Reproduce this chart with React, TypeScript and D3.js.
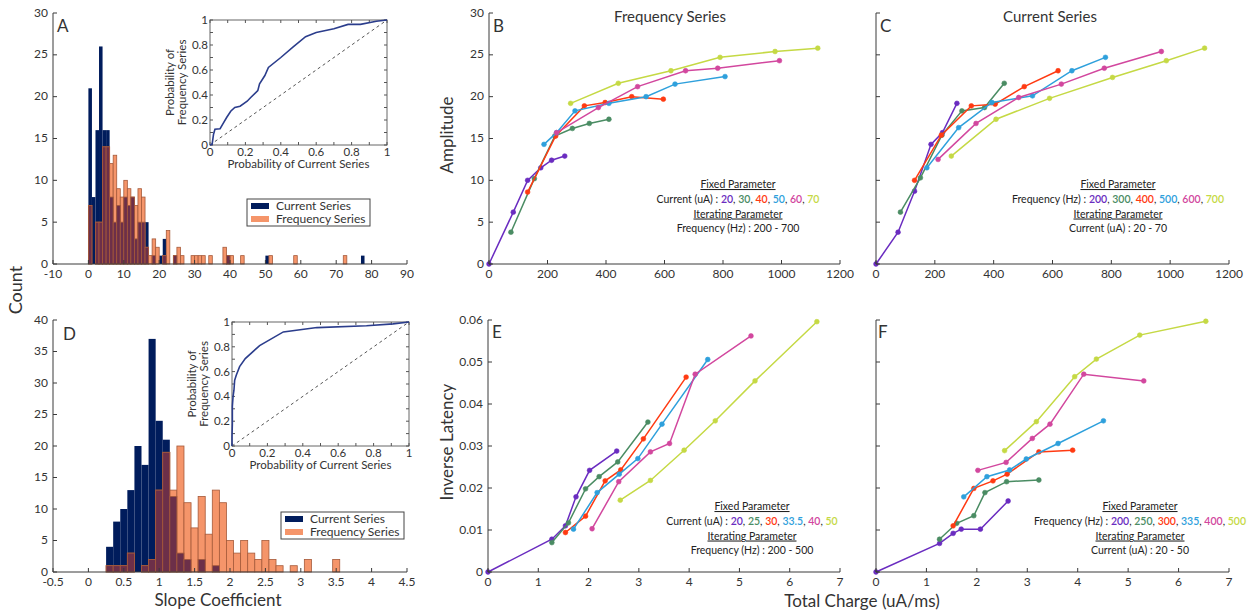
import React from 'react';
import * as d3 from 'd3';

const FONT = "Lato, 'Open Sans', sans-serif";
const TXT = '#333';
const AX = '#3a3a3a';

// ---------- Histogram A (bins of width 1) ----------
const histA_bins = [0,1,2,3,4,5,6,7,8,9,10,11,12,13,14,15,16,17,18,19,20,21,22,23,24,25,26,27,28,29,30,31,32,33,34,38,39,40,43,50,51,58,72,77];
const histA_current = [21,8,16,26,16,16,8,5,7,5,8,7,8,3,5,5,5,0,1,0,1,3,0,0,1,0,0,0,0,0,0,0,0,0,0,0,1,0,0,1,0,0,0,1];
const histA_frequency = [7,0,5,5,14,14,12,13,9,8,10,9,8,7,9,8,2,1,3,2,0,1,4,0,1,2,1,0,0,1,1,1,1,0,1,2,1,1,1,0,1,1,1,0];

// ---------- Histogram D (slope coefficient, bins of width 0.1, centers) ----------
const histD_centers = [0.3,0.4,0.5,0.6,0.7,0.8,0.9,1.0,1.1,1.2,1.3,1.4,1.5,1.6,1.7,1.8,1.9,2.0,2.1,2.2,2.3,2.4,2.5,2.6,2.7,2.8,2.9,3.0,3.1,3.2,3.3,3.4,3.5];
const histD_current = [4,8,10,13,20,17,37,24,21,12,3,2,0,2,0,1,0,0,0,0,0,0,0,0,0,0,0,0,0,0,0,0,0];
const histD_frequency = [1,1,1,3,0,1,2,13,19,13,20,11,7,12,6,13,11,5,3,5,3,2,5,2,1,0,1,0,2,0,0,0,2];

// ---------- Inset cumulative curves ----------
const insetA_curve = [[0,0],[0.012,0.005],[0.02,0.086],[0.028,0.126],[0.057,0.13],[0.072,0.167],[0.094,0.22],[0.117,0.27],[0.14,0.3],[0.17,0.31],[0.21,0.35],[0.23,0.38],[0.27,0.435],[0.28,0.49],[0.31,0.556],[0.33,0.62],[0.4,0.7],[0.47,0.785],[0.54,0.866],[0.6,0.9],[0.7,0.93],[0.78,0.965],[0.85,0.965],[0.94,0.99],[1,1]];
const insetD_curve = [[0,0],[0,0.075],[0.002,0.18],[0.002,0.32],[0.006,0.4],[0.011,0.45],[0.015,0.53],[0.024,0.57],[0.043,0.64],[0.075,0.705],[0.156,0.81],[0.29,0.92],[0.48,0.955],[0.76,0.97],[0.91,0.985],[1,1]];
const insetTicks = [0,0.2,0.4,0.6,0.8,1];
const insetMinor = [0,0.1,0.2,0.3,0.4,0.5,0.6,0.7,0.8,0.9,1];

// ---------- Panel B: Frequency series, amplitude vs total charge ----------
const B_20 = [[0,0],[83,6.2],[132,10],[177,11.5],[214,12.4],[259,12.9]];
const B_30 = [[75,3.8],[155,10.2],[225,15.3],[285,16.2],[343,16.8],[410,17.3]];
const B_40 = [[132,8.6],[228,15.3],[326,18.9],[397,19.3],[488,20],[596,19.7]];
const B_50 = [[188,14.3],[231,15.7],[294,18.3],[410,19.2],[537,20],[636,21.5],[807,22.4]];
const B_60 = [[231,15.7],[374,18.7],[508,21.2],[672,23.1],[782,23.4],[993,24.3]];
const B_70 = [[279,19.2],[442,21.6],[622,23.1],[790,24.7],[978,25.4],[1124,25.8]];

// ---------- Panel C: Current series ----------
const C_200 = [[0,0],[75,3.8],[131,8.7],[187,14.3],[226,15.7],[275,19.2]];
const C_300 = [[83,6.2],[151,10.3],[224,15.4],[292,18.3],[369,18.7],[436,21.6]];
const C_400 = [[131,10],[222,15.4],[324,18.9],[405,19.1],[504,21.2],[619,23.1]];
const C_500 = [[173,11.5],[281,16.3],[394,19.3],[532,20.1],[666,23.1],[780,24.7]];
const C_600 = [[211,12.5],[340,16.8],[485,19.9],[630,21.5],[776,23.4],[970,25.4]];
const C_700 = [[256,12.9],[408,17.3],[590,19.8],[804,22.3],[987,24.3],[1117,25.8]];

// ---------- Panel E: inverse latency, frequency series ----------
const E_20 = [[0,0],[1.27,0.0078],[1.54,0.011],[1.75,0.0179],[2.02,0.0242],[2.56,0.0288]];
const E_25 = [[1.27,0.007],[1.6,0.0117],[1.94,0.0198],[2.21,0.0227],[2.58,0.0262],[3.18,0.0357]];
const E_30 = [[1.54,0.0094],[1.94,0.0133],[2.33,0.0217],[2.64,0.0243],[3.09,0.0317],[3.94,0.0464]];
const E_335 = [[1.7,0.0102],[2.17,0.0189],[2.61,0.0233],[2.98,0.027],[3.46,0.0352],[4.37,0.0506]];
const E_40 = [[2.07,0.0103],[2.6,0.0215],[3.23,0.0286],[3.61,0.0306],[4.12,0.0471],[5.23,0.0562]];
const E_50 = [[2.63,0.0171],[3.23,0.0218],[3.9,0.029],[4.52,0.036],[5.31,0.0455],[6.54,0.0596]];

// ---------- Panel F: inverse latency, current series ----------
const F_200 = [[0,0],[1.26,0.0068],[1.53,0.0092],[1.69,0.0102],[2.07,0.0102],[2.62,0.0169]];
const F_250 = [[1.26,0.0078],[1.6,0.0116],[1.94,0.0134],[2.16,0.0189],[2.59,0.0215],[3.23,0.0219]];
const F_300 = [[1.53,0.011],[1.94,0.0199],[2.32,0.0217],[2.6,0.0233],[3.23,0.0286],[3.9,0.029]];
const F_335 = [[1.74,0.0179],[2.2,0.0227],[2.65,0.0243],[2.98,0.0269],[3.61,0.0306],[4.51,0.036]];
const F_400 = [[2.02,0.0242],[2.58,0.0261],[3.1,0.0318],[3.45,0.0352],[4.12,0.0471],[5.31,0.0455]];
const F_500 = [[2.55,0.0289],[3.18,0.0358],[3.94,0.0465],[4.37,0.0507],[5.23,0.0564],[6.54,0.0597]];

const SERIES_COLORS = ['#6a2cc0', '#4a8c63', '#ff3a12', '#2ea0dc', '#d2479e', '#c5d944'];

const histTicksA = [-10,0,10,20,30,40,50,60,70,80,90];
const histYTicksA = [0,5,10,15,20,25,30];
const histTicksD = [-0.5,0,0.5,1,1.5,2,2.5,3,3.5,4,4.5];
const histYTicksD = [0,5,10,15,20,25,30,35,40];
const ampTicksX = [0,200,400,600,800,1000,1200];
const ampTicksY = [0,5,10,15,20,25,30];
const latTicksX = [0,1,2,3,4,5,6,7];
const latTicksY = [0,0.01,0.02,0.03,0.04,0.05,0.06];

const NAVY = '#001c5c';
const ORANGE = '#f5956a';
const MAROON = '#6c2f49';
const EDGE = '#a65a3a';

function fmtNum(v: number) {
  return String(v);
}

function YAxis({ scale, x, ticks, labels = true, fs = 12, tl = 4 }: any) {
  const [r0, r1] = scale.range();
  return (
    <g>
      <line x1={x} x2={x} y1={r0} y2={r1} stroke={AX} strokeWidth={1} />
      {ticks.map((t: number) => (
        <g key={t}>
          <line x1={x} x2={x + tl} y1={scale(t)} y2={scale(t)} stroke={AX} />
          {labels && (
            <text x={x - 5} y={scale(t)} dy="0.3em" textAnchor="end" fontSize={fs} fill={TXT}>{fmtNum(t)}</text>
          )}
        </g>
      ))}
    </g>
  );
}

function XAxis({ scale, y, ticks, fs = 12, tl = 4 }: any) {
  const [r0, r1] = scale.range();
  return (
    <g>
      <line x1={r0} x2={r1} y1={y} y2={y} stroke={AX} strokeWidth={1} />
      {ticks.map((t: number) => (
        <g key={t}>
          <line x1={scale(t)} x2={scale(t)} y1={y} y2={y - tl} stroke={AX} />
          <text x={scale(t)} y={y + 13.5} textAnchor="middle" fontSize={fs} fill={TXT}>{fmtNum(t)}</text>
        </g>
      ))}
    </g>
  );
}

function Histogram({ xs, ys, lefts, width, current, frequency }: any) {
  const y0 = ys(0);
  return (
    <g>
      {lefts.map((l: number, i: number) => current[i] > 0 ? (
        <rect key={'b' + i} x={xs(l)} width={xs(l + width) - xs(l)} y={ys(current[i])} height={y0 - ys(current[i])} fill={NAVY} />
      ) : null)}
      {lefts.map((l: number, i: number) => frequency[i] > 0 ? (
        <rect key={'o' + i} x={xs(l)} width={xs(l + width) - xs(l)} y={ys(frequency[i])} height={y0 - ys(frequency[i])} fill={ORANGE} stroke={EDGE} strokeWidth={0.8} />
      ) : null)}
      {lefts.map((l: number, i: number) => {
        const m = Math.min(current[i], frequency[i]);
        return m > 0 ? (
          <rect key={'m' + i} x={xs(l)} width={xs(l + width) - xs(l)} y={ys(m)} height={y0 - ys(m)} fill={MAROON} stroke={EDGE} strokeWidth={0.8} />
        ) : null;
      })}
    </g>
  );
}

function Inset({ x0, x1, y0, y1, curve, ylabX }: any) {
  const xs = d3.scaleLinear().domain([0, 1]).range([x0, x1]);
  const ys = d3.scaleLinear().domain([0, 1]).range([y1, y0]);
  const line = d3.line<any>().x((d) => xs(d[0])).y((d) => ys(d[1]));
  const cy = (y0 + y1) / 2;
  return (
    <g>
      <rect x={x0} y={y0} width={x1 - x0} height={y1 - y0} fill="#fff" stroke="#666" strokeWidth={1} />
      {insetMinor.map((t) => (
        <g key={t}>
          <line x1={xs(t)} x2={xs(t)} y1={y1} y2={y1 - 3} stroke="#555" />
          <line x1={xs(t)} x2={xs(t)} y1={y0} y2={y0 + 3} stroke="#555" />
          <line x1={x0} x2={x0 + 3} y1={ys(t)} y2={ys(t)} stroke="#555" />
          <line x1={x1} x2={x1 - 3} y1={ys(t)} y2={ys(t)} stroke="#555" />
        </g>
      ))}
      {insetTicks.map((t) => (
        <g key={'l' + t}>
          <text x={xs(t)} y={y1 + 11} textAnchor="middle" fontSize={11.5} fill={TXT}>{fmtNum(t)}</text>
          <text x={x0 - 2} y={ys(t)} dy="0.35em" textAnchor="end" fontSize={11.5} fill={TXT}>{fmtNum(t)}</text>
        </g>
      ))}
      <line x1={xs(0)} y1={ys(0)} x2={xs(1)} y2={ys(1)} stroke="#555" strokeDasharray="3,3" strokeWidth={1} />
      <path d={line(curve) || ''} fill="none" stroke="#2b3d8c" strokeWidth={1.6} />
      <text x={(x0 + x1) / 2} y={y1 + 23} textAnchor="middle" fontSize={11.5} fill={TXT}>Probability of Current Series</text>
      <text transform={`translate(${ylabX},${cy}) rotate(-90)`} textAnchor="middle" fontSize={11.5} fill={TXT}>
        <tspan x={0} dy={0}>Probability of</tspan>
        <tspan x={0} dy={12}>Frequency Series</tspan>
      </text>
    </g>
  );
}

function Legend({ x, y, w, h }: any) {
  return (
    <g>
      <rect x={x} y={y} width={w} height={h} fill="#fff" stroke="#444" strokeWidth={1} />
      <rect x={x + 4} y={y + 4} width={18} height={6} fill={NAVY} />
      <text x={x + 29} y={y + 11} fontSize={12} fill={TXT}>Current Series</text>
      <rect x={x + 4} y={y + 17} width={18} height={6} fill={ORANGE} />
      <text x={x + 29} y={y + 24} fontSize={12} fill={TXT}>Frequency Series</text>
    </g>
  );
}

function LinePanel({ xs, ys, series }: any) {
  const line = d3.line<any>().x((d) => xs(d[0])).y((d) => ys(d[1]));
  return (
    <g>
      {series.map((s: any, i: number) => (
        <g key={i}>
          <path d={line(s) || ''} fill="none" stroke={SERIES_COLORS[i]} strokeWidth={1.5} />
          {s.map((d: any, j: number) => (
            <circle key={j} cx={xs(d[0])} cy={ys(d[1])} r={2.4} fill={SERIES_COLORS[i]} stroke={SERIES_COLORS[i]} strokeWidth={0.6} />
          ))}
        </g>
      ))}
    </g>
  );
}

function Annotation({ cx, y, label, values, iterLabel }: any) {
  return (
    <g fontSize={10.5} fill="#222">
      <text x={cx} y={y} textAnchor="middle" textDecoration="underline">Fixed Parameter</text>
      <text x={cx} y={y + 14.5} textAnchor="middle">
        {label} : {values.map((v: string, i: number) => (
          <React.Fragment key={i}>
            <tspan fill={SERIES_COLORS[i]} fontWeight={600}>{v}</tspan>{i < values.length - 1 ? <tspan>, </tspan> : null}
          </React.Fragment>
        ))}
      </text>
      <text x={cx} y={y + 29.5} textAnchor="middle" textDecoration="underline">Iterating Parameter</text>
      <text x={cx} y={y + 44} textAnchor="middle">{iterLabel}</text>
    </g>
  );
}

export default function App() {
  const xA = d3.scaleLinear().domain([-10, 90]).range([53, 407]);
  const yA = d3.scaleLinear().domain([0, 30]).range([264, 13]);
  const xD = d3.scaleLinear().domain([-0.5, 4.5]).range([53, 407]);
  const yD = d3.scaleLinear().domain([0, 40]).range([572, 320]);
  const xB = d3.scaleLinear().domain([0, 1200]).range([489, 840]);
  const xC = d3.scaleLinear().domain([0, 1200]).range([876, 1229]);
  const yAmp = d3.scaleLinear().domain([0, 30]).range([264, 13]);
  const xE = d3.scaleLinear().domain([0, 7]).range([488, 840]);
  const xF = d3.scaleLinear().domain([0, 7]).range([876, 1229]);
  const yLat = d3.scaleLinear().domain([0, 0.06]).range([572, 320]);

  return (
    <svg width={1253} height={612} style={{ position: 'absolute', left: 0, top: 0, background: '#fff' }} fontFamily={FONT}>
      <rect x={0} y={0} width={1253} height={612} fill="#fff" />

      {/* Panel A */}
      <Histogram xs={xA} ys={yA} lefts={histA_bins} width={1} current={histA_current} frequency={histA_frequency} />
      <YAxis scale={yA} x={53} ticks={histYTicksA} />
      <XAxis scale={xA} y={264} ticks={histTicksA} />
      <text x={57} y={32} fontSize={17} fill={TXT}>A</text>
      <Inset x0={210} x1={387} y0={20} y1={145} curve={insetA_curve} ylabX={174} />
      <Legend x={247} y={199} w={123} h={27} />

      {/* Panel D */}
      <Histogram xs={xD} ys={yD} lefts={histD_centers.map((c) => c - 0.05)} width={0.1} current={histD_current} frequency={histD_frequency} />
      <YAxis scale={yD} x={53} ticks={histYTicksD} />
      <XAxis scale={xD} y={572} ticks={histTicksD} />
      <text x={63} y={340} fontSize={17} fill={TXT}>D</text>
      <Inset x0={232} x1={409} y0={322} y1={446} curve={insetD_curve} ylabX={196} />
      <Legend x={281} y={512} w={123} h={27} />

      <text transform="translate(22,290) rotate(-90)" textAnchor="middle" fontSize={18} fill={TXT}>Count</text>
      <text x={218} y={606} textAnchor="middle" fontSize={17} fill={TXT}>Slope Coefficient</text>

      {/* Panel B */}
      <LinePanel xs={xB} ys={yAmp} series={[B_20, B_30, B_40, B_50, B_60, B_70]} />
      <YAxis scale={yAmp} x={489} ticks={ampTicksY} />
      <XAxis scale={xB} y={264} ticks={ampTicksX} />
      <text x={493} y={32} fontSize={17} fill={TXT}>B</text>
      <text x={670} y={22} textAnchor="middle" fontSize={15} fill={TXT}>Frequency Series</text>
      <text transform="translate(453,135) rotate(-90)" textAnchor="middle" fontSize={17} fill={TXT}>Amplitude</text>
      <Annotation cx={738} y={188} label="Current (uA)" values={['20', '30', '40', '50', '60', '70']} iterLabel="Frequency (Hz) : 200 - 700" />

      {/* Panel C */}
      <LinePanel xs={xC} ys={yAmp} series={[C_200, C_300, C_400, C_500, C_600, C_700]} />
      <YAxis scale={yAmp} x={876} ticks={ampTicksY} labels={false} />
      <XAxis scale={xC} y={264} ticks={ampTicksX} />
      <text x={880} y={32} fontSize={17} fill={TXT}>C</text>
      <text x={1050} y={22} textAnchor="middle" fontSize={15} fill={TXT}>Current Series</text>
      <Annotation cx={1118} y={188} label="Frequency (Hz)" values={['200', '300', '400', '500', '600', '700']} iterLabel="Current (uA) : 20 - 70" />

      {/* Panel E */}
      <LinePanel xs={xE} ys={yLat} series={[E_20, E_25, E_30, E_335, E_40, E_50]} />
      <YAxis scale={yLat} x={488} ticks={latTicksY} />
      <XAxis scale={xE} y={572} ticks={latTicksX} />
      <text x={492} y={338} fontSize={17} fill={TXT}>E</text>
      <text transform="translate(453,442) rotate(-90)" textAnchor="middle" fontSize={17} fill={TXT}>Inverse Latency</text>
      <Annotation cx={752} y={510} label="Current (uA)" values={['20', '25', '30', '33.5', '40', '50']} iterLabel="Frequency (Hz) : 200 - 500" />

      {/* Panel F */}
      <LinePanel xs={xF} ys={yLat} series={[F_200, F_250, F_300, F_335, F_400, F_500]} />
      <YAxis scale={yLat} x={876} ticks={latTicksY} labels={false} />
      <XAxis scale={xF} y={572} ticks={latTicksX} />
      <text x={878} y={338} fontSize={17} fill={TXT}>F</text>
      <Annotation cx={1140} y={510} label="Frequency (Hz)" values={['200', '250', '300', '335', '400', '500']} iterLabel="Current (uA) : 20 - 50" />

      <text x={862} y={607} textAnchor="middle" fontSize={17} fill={TXT}>Total Charge (uA/ms)</text>
    </svg>
  );
}
